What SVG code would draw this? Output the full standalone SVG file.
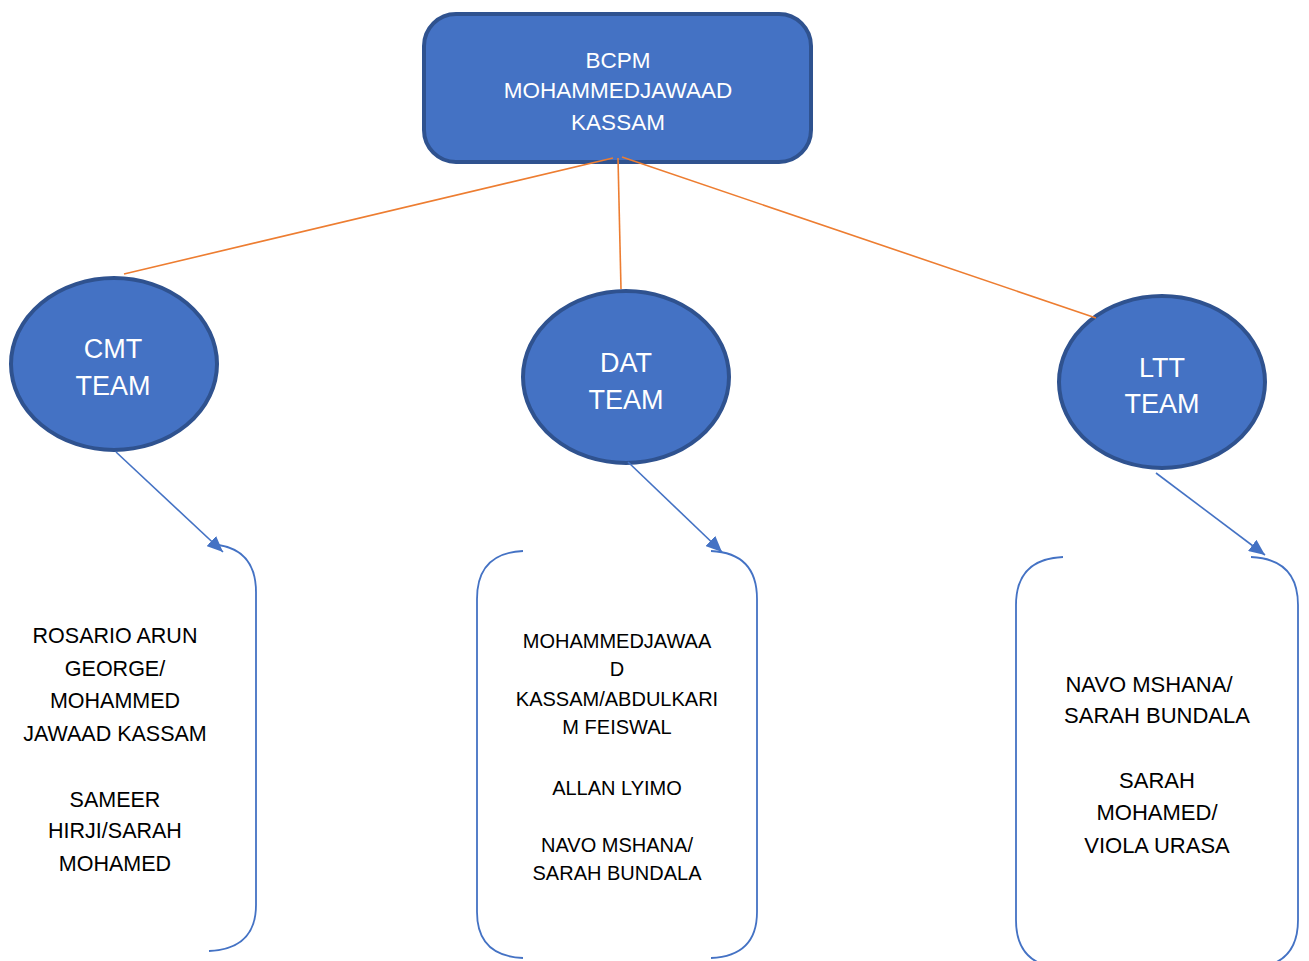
<svg xmlns="http://www.w3.org/2000/svg" width="1309" height="961" viewBox="0 0 1309 961">
<style>
.node{fill:#4472C4;stroke:#2F528F;stroke-width:4}
.wt{fill:#FFFFFF;font-family:"Liberation Sans",Arial,sans-serif;text-anchor:middle}
.bt{fill:#000000;font-family:"Liberation Sans",Arial,sans-serif;text-anchor:middle}
.org{stroke:#ED7D31;stroke-width:1.6;fill:none}
.arr{stroke:#4472C4;stroke-width:1.6;fill:none}
.brk{stroke:#4472C4;stroke-width:1.8;fill:none}
</style>
<defs>
<marker id="ah" markerUnits="userSpaceOnUse" markerWidth="18" markerHeight="14" refX="16" refY="7" orient="auto">
<path d="M0,0 L16,7 L0,14 Z" fill="#4472C4"/>
</marker>
</defs>
<rect width="1309" height="961" fill="#FFFFFF"/>
<g id="bcpm">
<rect class="node" x="424" y="14" width="387" height="148" rx="32" ry="32"/>
<text class="wt" font-size="22.5" x="618" y="68">BCPM</text>
<text class="wt" font-size="22.5" x="618" y="98">MOHAMMEDJAWAAD</text>
<text class="wt" font-size="22.5" x="618" y="130">KASSAM</text>
</g>
<g id="cmt">
<ellipse class="node" cx="114" cy="364" rx="103" ry="86"/>
<text class="wt" font-size="27" x="113" y="358">CMT</text>
<text class="wt" font-size="27" x="113" y="395">TEAM</text>
</g>
<g id="dat">
<ellipse class="node" cx="626" cy="377" rx="103" ry="86"/>
<text class="wt" font-size="27" x="626" y="372">DAT</text>
<text class="wt" font-size="27" x="626" y="409">TEAM</text>
</g>
<g id="ltt">
<ellipse class="node" cx="1162" cy="382" rx="103" ry="86"/>
<text class="wt" font-size="27" x="1162" y="377">LTT</text>
<text class="wt" font-size="27" x="1162" y="413">TEAM</text>
</g>
<g id="cmt-members">
<path class="brk" d="M209,544 Q256,546 256,592 L256,905 Q256,949 209,951"/>
<text class="bt" font-size="21.5" x="115" y="643">ROSARIO ARUN</text>
<text class="bt" font-size="21.5" x="115" y="676">GEORGE/</text>
<text class="bt" font-size="21.5" x="115" y="708">MOHAMMED</text>
<text class="bt" font-size="21.5" x="115" y="741">JAWAAD KASSAM</text>
<text class="bt" font-size="21.5" x="115" y="807">SAMEER</text>
<text class="bt" font-size="21.5" x="115" y="838">HIRJI/SARAH</text>
<text class="bt" font-size="21.5" x="115" y="871">MOHAMED</text>
</g>
<g id="dat-members">
<path class="brk" d="M523,551 Q477,553 477,599 L477,912 Q477,956 523,958"/>
<path class="brk" d="M711,551 Q757,553 757,599 L757,912 Q757,956 711,958"/>
<text class="bt" font-size="20" x="617" y="648">MOHAMMEDJAWAA</text>
<text class="bt" font-size="20" x="617" y="676">D</text>
<text class="bt" font-size="20" x="617" y="706">KASSAM/ABDULKARI</text>
<text class="bt" font-size="20" x="617" y="734">M FEISWAL</text>
<text class="bt" font-size="20" x="617" y="795">ALLAN LYIMO</text>
<text class="bt" font-size="20" x="617" y="852">NAVO MSHANA/</text>
<text class="bt" font-size="20" x="617" y="880">SARAH BUNDALA</text>
</g>
<g id="ltt-members">
<path class="brk" d="M1063,557 Q1016,559 1016,605 L1016,920 Q1016,966 1063,968"/>
<path class="brk" d="M1251,557 Q1298,559 1298,605 L1298,920 Q1298,966 1251,968"/>
<text class="bt" font-size="22" x="1149" y="692">NAVO MSHANA/</text>
<text class="bt" font-size="22" x="1157" y="723">SARAH BUNDALA</text>
<text class="bt" font-size="22" x="1157" y="788">SARAH</text>
<text class="bt" font-size="22" x="1157" y="820">MOHAMED/</text>
<text class="bt" font-size="22" x="1157" y="853">VIOLA URASA</text>
</g>
<g id="connectors">
<line class="org" x1="613" y1="158" x2="124" y2="274"/>
<line class="org" x1="618" y1="158" x2="621" y2="289"/>
<line class="org" x1="622" y1="157" x2="1096" y2="318"/>
<line class="arr" x1="116" y1="452" x2="223" y2="552" marker-end="url(#ah)"/>
<line class="arr" x1="628" y1="462" x2="722" y2="552" marker-end="url(#ah)"/>
<line class="arr" x1="1156" y1="473" x2="1265" y2="555" marker-end="url(#ah)"/>
</g>
</svg>
